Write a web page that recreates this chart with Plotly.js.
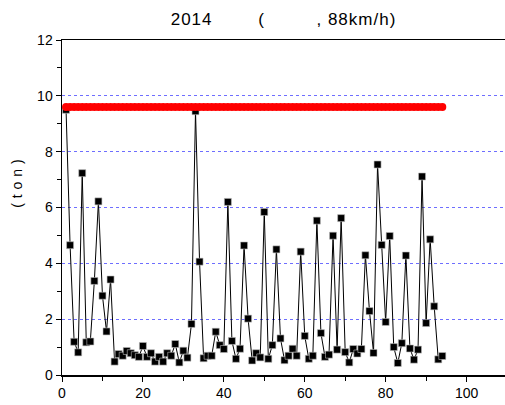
<!DOCTYPE html>
<html>
<head>
<meta charset="utf-8">
<script src="https://cdn.plot.ly/plotly-3.0.1.min.js"></script>
<style>
html,body{margin:0;padding:0;background:#fff;}
#chart{width:505px;height:405px;}
.gtitle{letter-spacing:1px;}
.ytitle{letter-spacing:0.5px;}
</style>
</head>
<body>
<div id="chart"></div>
<script>
var idx = [1,2,3,4,5,6,7,8,9,10,11,12,13,14,15,16,17,18,19,20,21,22,23,24,25,26,27,28,29,30,31,32,33,34,35,36,37,38,39,40,41,42,43,44,45,46,47,48,49,50,51,52,53,54,55,56,57,58,59,60,61,62,63,64,65,66,67,68,69,70,71,72,73,74,75,76,77,78,79,80,81,82,83,84,85,86,87,88,89,90,91,92,93,94];
var load = [9.5,4.65,1.19,0.81,7.23,1.17,1.2,3.37,6.22,2.84,1.56,3.42,0.48,0.75,0.69,0.86,0.78,0.71,0.65,1.04,0.65,0.78,0.48,0.65,0.48,0.78,0.69,1.11,0.45,0.87,0.62,1.83,9.45,4.06,0.6,0.69,0.69,1.55,1.07,0.93,6.2,1.22,0.58,0.94,4.64,2.02,0.52,0.78,0.63,5.84,0.58,1.07,4.5,1.31,0.53,0.69,0.94,0.69,4.42,1.4,0.58,0.69,5.53,1.5,0.65,0.73,4.99,0.91,5.62,0.82,0.45,0.93,0.77,0.93,4.29,2.29,0.79,7.54,4.66,1.9,4.98,1.0,0.43,1.14,4.28,0.95,0.55,0.91,7.11,1.86,4.86,2.46,0.56,0.68];
var limit = [9.6,9.6,9.6,9.6,9.6,9.6,9.6,9.6,9.6,9.6,9.6,9.6,9.6,9.6,9.6,9.6,9.6,9.6,9.6,9.6,9.6,9.6,9.6,9.6,9.6,9.6,9.6,9.6,9.6,9.6,9.6,9.6,9.6,9.6,9.6,9.6,9.6,9.6,9.6,9.6,9.6,9.6,9.6,9.6,9.6,9.6,9.6,9.6,9.6,9.6,9.6,9.6,9.6,9.6,9.6,9.6,9.6,9.6,9.6,9.6,9.6,9.6,9.6,9.6,9.6,9.6,9.6,9.6,9.6,9.6,9.6,9.6,9.6,9.6,9.6,9.6,9.6,9.6,9.6,9.6,9.6,9.6,9.6,9.6,9.6,9.6,9.6,9.6,9.6,9.6,9.6,9.6,9.6,9.6];
var xTicks = [0,20,40,60,80,100];
var yTicks = [0,2,4,6,8,10,12];

var nb = '\u00a0';
function pad(n){ return nb.repeat(n); }

var traces = [
  {x: idx, y: load, type: 'scatter', mode: 'lines+markers',
   line: {color: '#000', width: 1},
   marker: {symbol: 'square', size: 7, color: '#000', line: {color: '#bbb', width: 0.6}},
   hoverinfo: 'skip'},
  {x: idx, y: limit, type: 'scatter', mode: 'markers',
   marker: {symbol: 'circle', size: 8, color: '#ff0000', line: {width: 0}},
   hoverinfo: 'skip'}
];

var layout = {
  width: 505, height: 405,
  margin: {l: 62, r: 0, t: 40, b: 30},
  paper_bgcolor: '#fff', plot_bgcolor: '#fff',
  showlegend: false,
  font: {family: 'Liberation Sans, Arial, sans-serif', size: 14, color: '#000'},
  title: {text: '2014' + pad(8) + '(' + pad(9) + ', 88km/h)', x: 0.5, xref: 'paper', xanchor: 'center',
          y: 0.953, yref: 'container', yanchor: 'middle',
          font: {family: 'Liberation Sans, Arial, sans-serif', size: 17, color: '#000'}},
  xaxis: {range: [0, 109.5], tickvals: xTicks, ticktext: xTicks.map(String),
          ticks: 'outside', ticklen: 5, tickcolor: '#000', tickwidth: 1,
          minor: {dtick: 10, tick0: 0, ticks: 'outside', ticklen: 4, tickcolor: '#000', showgrid: false},
          showline: true, linecolor: '#000', linewidth: 1.5, mirror: true,
          showgrid: false, zeroline: false,
          tickfont: {size: 14, color: '#000'}},
  yaxis: {range: [0, 12], tickvals: yTicks, ticktext: yTicks.map(String),
          ticks: 'outside', ticklen: 5, tickcolor: '#000', tickwidth: 1,
          minor: {dtick: 1, tick0: 0, ticks: 'outside', ticklen: 4, tickcolor: '#000', showgrid: false},
          showline: true, linecolor: '#000', linewidth: 1.5,
          showgrid: true, gridcolor: 'rgb(110,110,255)', griddash: 'dot', gridwidth: 1,
          zeroline: false,
          tickfont: {size: 14, color: '#000'},
          title: {text: '\u200b' + pad(11) + '( t o n )', standoff: 11,
                  font: {size: 14, color: '#000'}}}
};

Plotly.newPlot('chart', traces, layout, {staticPlot: true, displayModeBar: false});
</script>
</body>
</html>
